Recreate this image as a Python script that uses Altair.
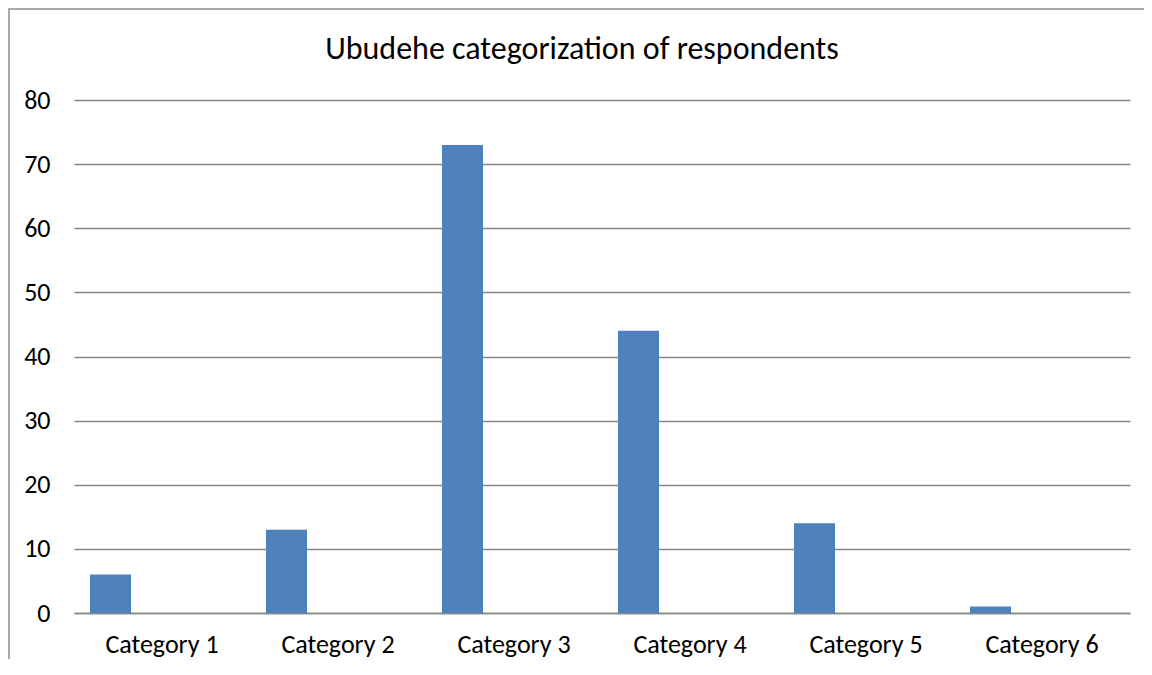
import altair as alt
import pandas as pd

categories = ["Category 1", "Category 2", "Category 3", "Category 4", "Category 5", "Category 6"]
values = [6, 13, 73, 44, 14, 1]
y_ticks = [0, 10, 20, 30, 40, 50, 60, 70, 80]
title_text = "Ubudehe categorization of respondents"

df = pd.DataFrame({"category": categories, "value": values})

FONT = "Carlito, Calibri, Lato, sans-serif"
GRID = "#868686"

bars = alt.Chart(df).mark_bar(color="#4F81BD", size=41, xOffset=-51.5).encode(
    x=alt.X(
        "category:N",
        sort=categories,
        scale=alt.Scale(paddingInner=0, paddingOuter=0),
        axis=alt.Axis(
            title=None, labelAngle=0, ticks=False, grid=False,
            domainColor=GRID, domainWidth=1.5,
            labelFont=FONT, labelFontSize=26, labelColor="#000000",
            labelBaseline="middle", labelPadding=31,
        ),
    ),
    y=alt.Y(
        "value:Q",
        scale=alt.Scale(domain=[0, 80], nice=False),
        axis=alt.Axis(
            values=y_ticks, title=None, ticks=False, domain=False,
            gridColor=GRID, gridWidth=1.3,
            labelFont=FONT, labelFontSize=26, labelColor="#000000",
            labelPadding=24,
        ),
    ),
)

frame = alt.Chart(alt.Data(values=[{}])).mark_rect(
    fillOpacity=0, stroke="#8c8c8c", strokeWidth=1.5
).encode(
    x=alt.value(-65), x2=alt.value(1300),
    y=alt.value(-91), y2=alt.value(900),
)

chart = alt.layer(frame, bars).properties(
    width=1056,
    height=513,
    autosize=alt.AutoSizeParams(type="none"),
    padding={"left": 66, "top": 92, "right": 14, "bottom": 46},
    title=alt.TitleParams(
        text=title_text, font=FONT, fontSize=32, fontWeight="normal",
        color="#000000", baseline="alphabetic", offset=-83, dx=-20,
        anchor="middle",
    ),
).configure_view(stroke=None)

chart.save("out.html", embed_options={"renderer": "svg", "actions": False})
